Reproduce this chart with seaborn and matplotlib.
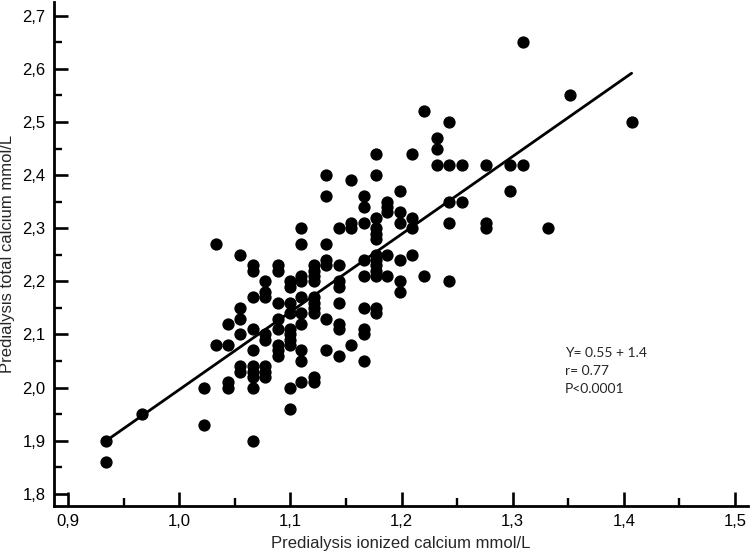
import numpy as np
import pandas as pd
import matplotlib
matplotlib.use("Agg")
import matplotlib.pyplot as plt
from matplotlib import font_manager
from matplotlib.ticker import MultipleLocator
import seaborn as sns

# ionized calcium column -> list of total calcium values
ionized_levels = [0.934, 0.967, 1.022, 1.033, 1.044, 1.055, 1.066, 1.077, 1.089, 1.100,
                  1.110, 1.121, 1.132, 1.144, 1.155, 1.166, 1.177, 1.187, 1.199, 1.209,
                  1.220, 1.232, 1.243, 1.254, 1.276, 1.298, 1.309, 1.332, 1.352, 1.407]
total_by_level = [
    [1.90, 1.86],
    [1.95],
    [2.00, 1.93],
    [2.27, 2.08],
    [2.12, 2.08, 2.01, 2.00],
    [2.25, 2.15, 2.13, 2.10, 2.04, 2.03],
    [2.23, 2.22, 2.17, 2.11, 2.07, 2.04, 2.03, 2.02, 2.00, 1.90],
    [2.20, 2.18, 2.17, 2.10, 2.09, 2.04, 2.03, 2.02],
    [2.23, 2.22, 2.16, 2.13, 2.11, 2.08, 2.07, 2.06],
    [2.20, 2.19, 2.16, 2.14, 2.11, 2.10, 2.09, 2.08, 2.00, 1.96],
    [2.30, 2.27, 2.21, 2.20, 2.17, 2.14, 2.12, 2.07, 2.05, 2.01],
    [2.23, 2.22, 2.21, 2.20, 2.17, 2.16, 2.15, 2.14, 2.02, 2.01],
    [2.40, 2.36, 2.27, 2.24, 2.23, 2.13, 2.07],
    [2.30, 2.23, 2.20, 2.19, 2.16, 2.12, 2.11, 2.06],
    [2.39, 2.31, 2.30, 2.08],
    [2.36, 2.34, 2.31, 2.24, 2.21, 2.15, 2.11, 2.10, 2.05],
    [2.44, 2.40, 2.32, 2.30, 2.29, 2.28, 2.25, 2.24, 2.23, 2.22, 2.21, 2.15, 2.14],
    [2.35, 2.34, 2.33, 2.25, 2.21],
    [2.37, 2.33, 2.31, 2.24, 2.20, 2.18],
    [2.44, 2.32, 2.30, 2.25],
    [2.52, 2.21],
    [2.47, 2.45, 2.42],
    [2.50, 2.42, 2.35, 2.31, 2.20],
    [2.42, 2.35],
    [2.42, 2.31, 2.30],
    [2.42, 2.37],
    [2.65, 2.42],
    [2.30],
    [2.55],
    [2.50],
]

x_ticks = [0.9, 1.0, 1.1, 1.2, 1.3, 1.4, 1.5]
x_tick_labels = ["0,9", "1,0", "1,1", "1,2", "1,3", "1,4", "1,5"]
y_ticks = [1.8, 1.9, 2.0, 2.1, 2.2, 2.3, 2.4, 2.5, 2.6, 2.7]
y_tick_labels = ["1,8", "1,9", "2,0", "2,1", "2,2", "2,3", "2,4", "2,5", "2,6", "2,7"]
stats_text = "Y= 0.55 + 1.4\nr= 0.77\nP<0.0001"

rows = []
for xv, ys in zip(ionized_levels, total_by_level):
    for yv in ys:
        rows.append((xv, yv))
df = pd.DataFrame(rows, columns=["ionized", "total"])

sns.set_style("ticks")
installed = {f.name for f in font_manager.fontManager.ttflist}
label_font = "Liberation Sans Narrow" if "Liberation Sans Narrow" in installed else "Liberation Sans"
plt.rcParams["font.family"] = [label_font, "DejaVu Sans"]

fig = plt.figure(figsize=(7.52, 5.52), dpi=100)
ax = fig.add_axes([0.0718, 0.0833, 0.9229, 0.9131])

sns.regplot(data=df, x="ionized", y="total", ci=None, ax=ax, color="black",
            scatter_kws=dict(s=78, linewidths=0, alpha=1),
            line_kws=dict(lw=2.0, color="black"))

ax.set_xlim(0.8874, 1.5117)
ax.set_ylim(1.777, 2.726)
ax.set_xticks(x_ticks, labels=x_tick_labels)
ax.set_yticks(y_ticks, labels=y_tick_labels)
ax.xaxis.set_minor_locator(MultipleLocator(0.05))
ax.yaxis.set_minor_locator(MultipleLocator(0.05))
ax.tick_params(which="major", direction="in", length=10, width=1.9, labelsize=12,
               pad=6, colors="black")
ax.tick_params(which="minor", direction="in", length=6, width=1.7, colors="black")
for side in ["top", "right"]:
    ax.spines[side].set_visible(False)
for side in ["left", "bottom"]:
    ax.spines[side].set_linewidth(2.0)
    ax.spines[side].set_color("black")

ax.set_xlabel("Predialysis ionized calcium mmol/L", fontsize=12, labelpad=5)
ax.set_ylabel("Predialysis total calcium mmol/L", fontsize=12, labelpad=5)

ax.text(1.347, 2.076, stats_text, fontsize=10, family=["Lato", "DejaVu Sans"],
        va="top", ha="left", linespacing=1.6)

fig.savefig("out.png", dpi=100)
